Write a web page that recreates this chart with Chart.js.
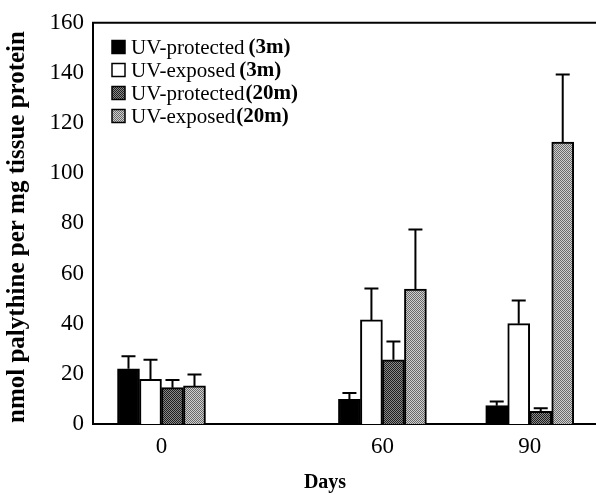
<!DOCTYPE html>
<html>
<head>
<meta charset="utf-8">
<script src="https://cdn.jsdelivr.net/npm/chart.js@4.4.1/dist/chart.umd.min.js"></script>
<style>
  html, body { margin: 0; padding: 0; background: #fff; }
  #wrap { width: 596px; height: 495px; }
</style>
</head>
<body>
<div id="wrap"><canvas id="palythineChart"></canvas></div>
<script>
// sampling days and the series (nmol palythine per mg tissue protein)
const days = ["0", "60", "90"];
const seriesNames = ["UV-protected", "UV-exposed", "UV-protected", "UV-exposed"];
const depths = ["(3m)", "(3m)", "(20m)", "(20m)"];

const protected3m = [22, 9.8, 7.3];
const exposed3m = [17.8, 41.5, 40];
const protected20m = [14.5, 25.6, 5.1];
const exposed20m = [15.2, 53.8, 112.4];

// upper error (SE) for each bar
const protected3mErr = [5, 2.6, 1.7];
const exposed3mErr = [7.8, 12.5, 9.3];
const protected20mErr = [3, 7.3, 1.2];
const exposed20mErr = [4.5, 23.8, 27];

const yTicks = [0, 20, 40, 60, 80, 100, 120, 140, 160];

const xTitle = "Days";
const yTitle = "nmol palythine per mg tissue protein";

const SERIF = '"Liberation Serif", "Times New Roman", serif';

// where each day group sits on the x axis (uneven gaps between groups)
const groupSlot = [0, 3, 5];

// 1px checkerboard fills for the grey bars
function checker(base, dot) {
  const c = document.createElement("canvas");
  c.width = 2;
  c.height = 2;
  const g = c.getContext("2d");
  g.fillStyle = base;
  g.fillRect(0, 0, 2, 2);
  g.fillStyle = dot;
  g.fillRect(0, 0, 1, 1);
  g.fillRect(1, 1, 1, 1);
  return g.createPattern(c, "repeat");
}

const fills = ["#000000", "#ffffff", checker("#8a8a8a", "#1e1e1e"), checker("#cfcfcf", "#6a6a6a")];
const values = [protected3m, exposed3m, protected20m, exposed20m];
const errors = [protected3mErr, exposed3mErr, protected20mErr, exposed20mErr];

const datasets = values.map((vals, i) => ({
  label: seriesNames[i] + " " + depths[i],
  data: vals.map((v, j) => ({ x: groupSlot[j], y: v })),
  errors: errors[i],
  backgroundColor: fills[i],
  borderColor: "#000",
  borderWidth: 2,
  barThickness: 22,
}));

// upward-only error bars with a cap
const errorBars = {
  id: "errorBars",
  afterDatasetsDraw(chart) {
    const { ctx } = chart;
    const yScale = chart.scales.y;
    ctx.save();
    ctx.strokeStyle = "#000";
    ctx.lineWidth = 2;
    chart.data.datasets.forEach((ds, i) => {
      chart.getDatasetMeta(i).data.forEach((bar, j) => {
        const top = yScale.getPixelForValue(ds.data[j].y + ds.errors[j]);
        ctx.beginPath();
        ctx.moveTo(bar.x, bar.y);
        ctx.lineTo(bar.x, top);
        ctx.moveTo(bar.x - 7, top);
        ctx.lineTo(bar.x + 7, top);
        ctx.stroke();
      });
    });
    ctx.restore();
  },
};

// top frame line and the two axis titles
const frameAndTitles = {
  id: "frameAndTitles",
  afterDraw(chart) {
    const { ctx, chartArea } = chart;
    ctx.save();
    ctx.strokeStyle = "#000";
    ctx.lineWidth = 2;
    ctx.beginPath();
    ctx.moveTo(chartArea.left - 1, chartArea.top);
    ctx.lineTo(chartArea.right, chartArea.top);
    ctx.stroke();

    ctx.fillStyle = "#000";
    ctx.textAlign = "center";
    ctx.textBaseline = "middle";
    ctx.font = "bold 20px " + SERIF;
    ctx.fillText(xTitle, 325, 483);

    ctx.translate(18, 227);
    ctx.rotate(-Math.PI / 2);
    ctx.font = "bold 25px " + SERIF;
    ctx.fillText(yTitle, 0, 0);
    ctx.restore();
  },
};

// legend: plain series name followed by the depth in bold
const boxLegend = {
  id: "boxLegend",
  afterDraw(chart) {
    const { ctx } = chart;
    const x0 = 112, y0 = 47, rowH = 23, box = 13;
    ctx.save();
    ctx.textBaseline = "middle";
    chart.data.datasets.forEach((ds, i) => {
      const cy = y0 + i * rowH;
      ctx.fillStyle = ds.backgroundColor;
      ctx.fillRect(x0, cy - box / 2, box, box);
      ctx.strokeStyle = "#000";
      ctx.lineWidth = 1.5;
      ctx.strokeRect(x0, cy - box / 2, box, box);

      ctx.fillStyle = "#000";
      ctx.font = "21px " + SERIF;
      ctx.fillText(seriesNames[i], x0 + 19, cy + 1);
      const w = ctx.measureText(seriesNames[i]).width;
      ctx.font = "bold 21px " + SERIF;
      ctx.fillText(depths[i], x0 + 19 + w + (i < 2 ? 4 : 1), cy + 1);
    });
    ctx.restore();
  },
};

new Chart(document.getElementById("palythineChart"), {
  type: "bar",
  data: { datasets },
  plugins: [errorBars, frameAndTitles, boxLegend],
  options: {
    responsive: true,
    maintainAspectRatio: false,
    animation: false,
    layout: { padding: { top: 20, right: 0, bottom: 0, left: 0 } },
    plugins: {
      legend: { display: false },
      tooltip: { enabled: false },
    },
    scales: {
      x: {
        type: "linear",
        offset: false,
        min: -0.93,
        max: 5.9,
        afterBuildTicks: (scale) => {
          scale.ticks = groupSlot.map((v) => ({ value: v }));
        },
        afterFit: (scale) => {
          scale.height = 71;
        },
        ticks: {
          padding: 9,
          color: "#000",
          font: { family: SERIF, size: 23 },
          callback: (v) => days[groupSlot.indexOf(v)],
        },
        grid: { display: false, drawTicks: false },
        border: { display: true, color: "#000", width: 2 },
      },
      y: {
        min: 0,
        max: 160,
        afterBuildTicks: (scale) => {
          scale.ticks = yTicks.map((v) => ({ value: v }));
        },
        afterFit: (scale) => {
          scale.width = 93;
        },
        ticks: {
          padding: 9,
          color: "#000",
          font: { family: SERIF, size: 23 },
        },
        grid: { display: false, drawTicks: false },
        border: { display: true, color: "#000", width: 2 },
      },
    },
  },
});
</script>
</body>
</html>
